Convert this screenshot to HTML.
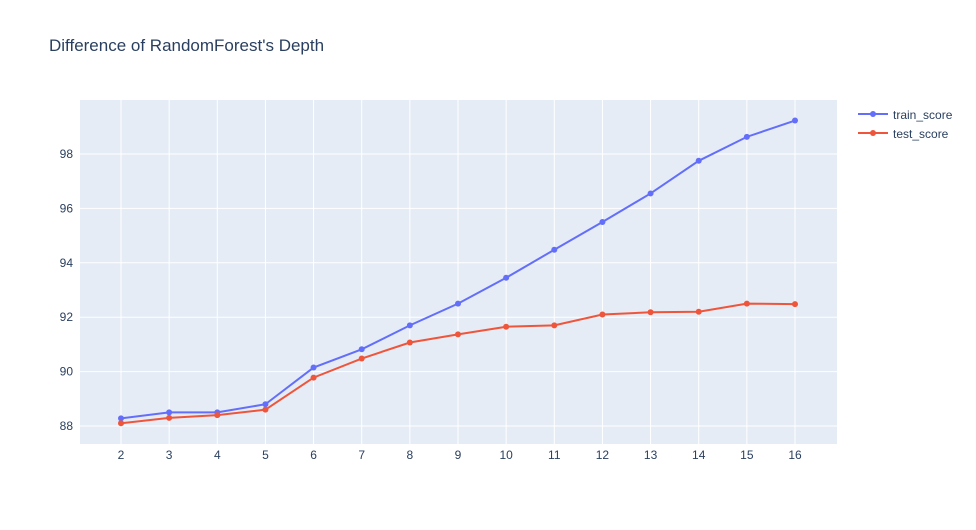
<!DOCTYPE html>
<html><head><meta charset="utf-8"><style>
body{margin:0;background:#fff;font-family:"Liberation Sans",Arial,sans-serif;}
svg text{font-family:"Liberation Sans",Arial,sans-serif;}
</style></head><body>
<svg id="chart" width="976" height="525">
<rect x="0" y="0" width="976" height="525" fill="#fff"/>
<text x="49" y="51" font-size="17" fill="#2a3f5f">Difference of RandomForest's Depth</text>
<rect x="80" y="100" width="757" height="344" fill="#e5ecf6"/>
<g id="grid"></g><g id="series"></g><g id="ticks"></g>
<g>
<g>
<line x1="858" y1="114" x2="888" y2="114" stroke="#636efa" stroke-width="2"/><circle cx="873" cy="114" r="3" fill="#636efa"/>
<text x="893" y="119" font-size="12" fill="#2a3f5f">train_score</text></g>
<g>
<line x1="858" y1="133" x2="888" y2="133" stroke="#ef553b" stroke-width="2"/><circle cx="873" cy="133" r="3" fill="#ef553b"/>
<text x="893" y="138" font-size="12" fill="#2a3f5f">test_score</text></g>
</g>
</svg>
<script>
const depths=[2,3,4,5,6,7,8,9,10,11,12,13,14,15,16];
const trainScore=[88.28,88.5,88.5,88.8,90.15,90.82,91.7,92.5,93.45,94.48,95.5,96.55,97.75,98.63,99.23];
const testScore=[88.1,88.3,88.4,88.6,89.78,90.48,91.07,91.37,91.65,91.7,92.1,92.18,92.2,92.5,92.48];
const yTicks=[88,90,92,94,96,98];
const NS="http://www.w3.org/2000/svg";
function xs(v){return 121+(v-2)*(795-121)/14;}
function ys(v){return 426-(v-88)*(426-154)/10;}
function mk(tag,attrs,parent){const e=document.createElementNS(NS,tag);for(const k in attrs)e.setAttribute(k,attrs[k]);document.getElementById(parent).appendChild(e);return e;}
depths.forEach(d=>{
 const l=mk('line',{x1:xs(d),x2:xs(d),y1:100,y2:444,stroke:'#fff','stroke-width':1},'grid');
 
 
 const t=mk('text',{x:xs(d),y:459,'font-size':12,fill:'#2a3f5f','text-anchor':'middle'},'ticks');
 t.textContent=d;
 
 
});
yTicks.forEach(v=>{
 const l=mk('line',{x1:80,x2:837,y1:ys(v),y2:ys(v),stroke:'#fff','stroke-width':1},'grid');
 
 
 const t=mk('text',{x:73,y:ys(v)+4,'font-size':12,fill:'#2a3f5f','text-anchor':'end'},'ticks');
 t.textContent=v;
 
 
});
function series(vals,color,name){
 const p=mk('polyline',{points:depths.map((d,i)=>xs(d)+','+ys(vals[i])).join(' '),fill:'none',stroke:color,'stroke-width':2},'series');
 
 
 depths.forEach((d,i)=>{
  const c=mk('circle',{cx:xs(d),cy:ys(vals[i]),r:3,fill:color},'series');
  
  
 });
}
series(trainScore,'#636efa','train-score');
series(testScore,'#ef553b','test-score');
</script>
</body></html>
